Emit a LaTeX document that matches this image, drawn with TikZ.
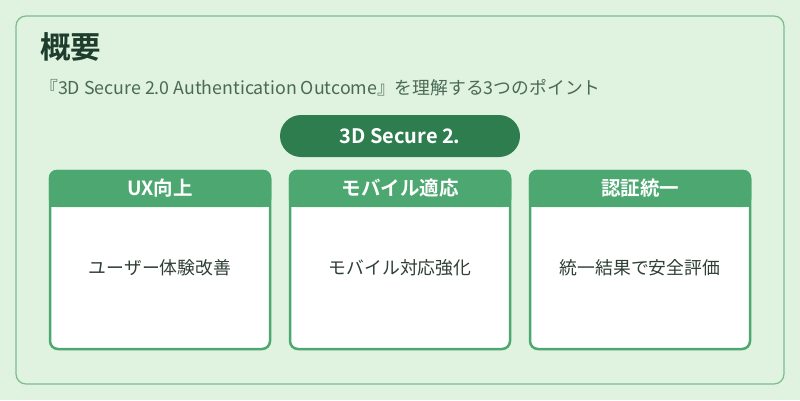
\documentclass[tikz,border=0pt]{standalone}
\usepackage{fontspec}
\setmainfont{Noto Sans CJK JP}
\newfontfamily\jpbold{Noto Sans CJK JP Bold}
\definecolor{bgc}{HTML}{E0F2E0}
\definecolor{outerc}{HTML}{7DBB8F}
\definecolor{headc}{HTML}{4CA870}
\definecolor{pillc}{HTML}{2E7D4F}
\definecolor{titlec}{HTML}{1E3D2C}
\definecolor{subc}{HTML}{4A6A55}
\definecolor{bodyc}{HTML}{2F3F35}
\begin{document}
\begin{tikzpicture}[x=1pt,y=-1pt,
  card/.style={draw=headc,line width=2.5pt,fill=white,rounded corners=8pt},
  cardhead/.style={text=white,font=\jpbold\fontsize{19.5}{22}\selectfont},
  cardbody/.style={text=bodyc,font=\fontsize{17.8}{20}\selectfont}]
\useasboundingbox (0,0) rectangle (800,400);
\fill[bgc] (0,0) rectangle (800,400);
\draw[outerc,line width=1.2pt,rounded corners=10pt,fill=bgc] (16,16) rectangle (784,384);
\node[anchor=west,text=titlec,font=\jpbold\fontsize{30.5}{34}\selectfont,inner sep=0] (title) at (40,47) {概要};
\node[anchor=west,text=subc,font=\fontsize{17.8}{20}\selectfont,inner sep=0] (sub) at (40,88) {『3D Secure 2.0 Authentication Outcome』を理解する3つのポイント};
\fill[pillc,rounded corners=21pt] (280,115) rectangle (520,157);
\node[text=white,font=\jpbold\fontsize{20}{23}\selectfont] (pill) at (400,136) {3D Secure 2.};
\foreach \x/\h/\b/\n in {50/UX向上/ユーザー体験改善/a, 290/モバイル適応/モバイル対応強化/b, 530/認証統一/統一結果で安全評価/c}{
  \draw[card] (\x,171) rectangle ++(220,178);
  \fill[headc,rounded corners=8pt] (\x-1.25,169.75) -- (\x-1.25,207) -- (\x+221.25,207) -- (\x+221.25,169.75) -- cycle;
  \fill[headc] (\x-1.25,195) rectangle (\x+221.25,207);
  \node[cardhead] (h\n) at (\x+110,188) {\h};
  \node[cardbody] (b\n) at (\x+110,268) {\b};
}
\end{tikzpicture}
\end{document}
